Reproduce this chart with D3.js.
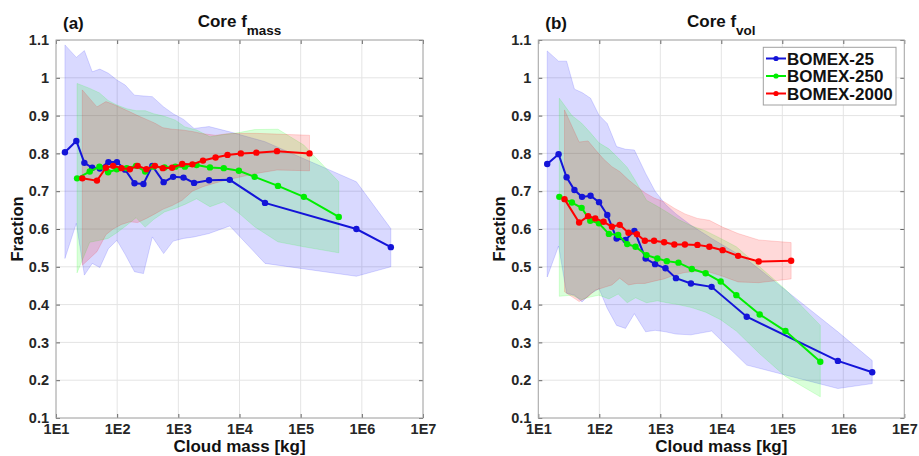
<!DOCTYPE html>
<html>
<head>
    <meta charset='utf-8' />
    <title>Core f_mass and f_vol vs cloud mass</title>
    <script src="https://d3js.org/d3.v7.min.js" charset="utf-8"></script>
    <style>
        body {
            margin: 0;
            background: #fff;
            font-family: "Liberation Sans", Arial, sans-serif;
        }
        .tick text {
            font-size: 14.5px;
            font-weight: bold;
            fill: #262626;
        }
        .lbl {
            font-weight: bold;
            fill: #111;
        }
    </style>
</head>
<body>
<svg id="chart" width="919" height="456"></svg>

<script>

// cloud mass bins [kg], one list per simulation (same in both panels)
var mass25 = [14.0, 21.5, 29.1, 39.1, 52.1, 71.9, 99.1, 135, 192, 269, 376, 575, 822,
              1216, 1807, 3177, 6934, 26120, 814700, 2979000];
var mass250 = [22.1, 35.6, 51.3, 71.1, 98.6, 143.6, 204, 287, 393, 594, 895, 1279, 1986,
               3289, 5534, 9772, 17660, 42560, 112700, 419800];
var mass2000 = [26.9, 46.7, 65.5, 85.9, 117.5, 161, 216, 301, 414, 558, 791, 1156, 1698,
                2529, 4064, 6368, 10510, 18840, 41020, 139600];

// panel (a): core f_mass, mean and spread
var fmass25   = [0.803, 0.833, 0.775, 0.762, 0.760, 0.777, 0.777, 0.757, 0.721, 0.719, 0.767, 0.724, 0.738, 0.736, 0.722, 0.729, 0.730, 0.669, 0.600, 0.552];
var fmass25Hi = [1.087, 1.054, 1.072, 1.016, 1.023, 1.012, 0.994, 0.981, 0.954, 0.952, 0.950, 0.923, 0.905, 0.890, 0.866, 0.871, 0.857, 0.831, 0.725, 0.601];
var fmass25Lo = [0.522, 0.615, 0.478, 0.509, 0.498, 0.548, 0.570, 0.533, 0.487, 0.482, 0.579, 0.535, 0.568, 0.575, 0.579, 0.588, 0.608, 0.509, 0.475, 0.500];

var fmass250   = [0.734, 0.752, 0.765, 0.750, 0.758, 0.761, 0.767, 0.752, 0.765, 0.763, 0.765, 0.765, 0.769, 0.763, 0.761, 0.754, 0.738, 0.714, 0.685, 0.632];
var fmass250Hi = [0.985, 0.972, 0.960, 0.940, 0.928, 0.918, 0.913, 0.913, 0.905, 0.898, 0.888, 0.870, 0.862, 0.844, 0.850, 0.855, 0.863, 0.864, 0.822, 0.725];
var fmass250Lo = [0.484, 0.565, 0.570, 0.575, 0.590, 0.610, 0.630, 0.605, 0.625, 0.645, 0.655, 0.665, 0.680, 0.659, 0.672, 0.642, 0.606, 0.566, 0.553, 0.537];

var fmass2000   = [0.734, 0.728, 0.762, 0.767, 0.761, 0.758, 0.767, 0.758, 0.767, 0.761, 0.762, 0.772, 0.771, 0.781, 0.789, 0.796, 0.800, 0.802, 0.806, 0.800];
var fmass2000Hi = [0.968, 0.923, 0.937, 0.930, 0.920, 0.910, 0.900, 0.890, 0.880, 0.868, 0.864, 0.862, 0.858, 0.852, 0.848, 0.852, 0.853, 0.853, 0.851, 0.848];
var fmass2000Lo = [0.504, 0.540, 0.585, 0.600, 0.612, 0.619, 0.617, 0.628, 0.640, 0.652, 0.662, 0.676, 0.700, 0.712, 0.722, 0.730, 0.738, 0.747, 0.756, 0.754];

// panel (b): core f_vol
var fvol25   = [0.772, 0.798, 0.737, 0.703, 0.685, 0.688, 0.671, 0.637, 0.575, 0.571, 0.595, 0.522, 0.507, 0.496, 0.470, 0.456, 0.447, 0.368, 0.251, 0.221];
var fvol25Hi = [1.071, 1.044, 1.044, 0.970, 0.961, 0.946, 0.901, 0.879, 0.818, 0.811, 0.809, 0.747, 0.700, 0.665, 0.640, 0.610, 0.575, 0.520, 0.328, 0.252];
var fvol25Lo = [0.473, 0.555, 0.430, 0.425, 0.407, 0.429, 0.442, 0.390, 0.345, 0.337, 0.376, 0.328, 0.332, 0.328, 0.322, 0.320, 0.330, 0.240, 0.178, 0.191];

var fvol250   = [0.685, 0.670, 0.656, 0.622, 0.615, 0.587, 0.584, 0.560, 0.553, 0.531, 0.522, 0.515, 0.511, 0.494, 0.483, 0.461, 0.425, 0.374, 0.330, 0.249];
var fvol250Hi = [0.946, 0.900, 0.880, 0.855, 0.828, 0.812, 0.788, 0.763, 0.727, 0.676, 0.660, 0.645, 0.625, 0.608, 0.595, 0.575, 0.553, 0.500, 0.440, 0.345];
var fvol250Lo = [0.422, 0.425, 0.413, 0.420, 0.425, 0.415, 0.428, 0.405, 0.418, 0.405, 0.410, 0.405, 0.400, 0.392, 0.380, 0.360, 0.330, 0.270, 0.210, 0.156];

var fvol2000   = [0.679, 0.617, 0.634, 0.628, 0.619, 0.606, 0.611, 0.590, 0.586, 0.569, 0.569, 0.565, 0.559, 0.559, 0.558, 0.553, 0.544, 0.529, 0.514, 0.516];
var fvol2000Hi = [0.915, 0.830, 0.833, 0.810, 0.785, 0.765, 0.752, 0.730, 0.712, 0.696, 0.682, 0.672, 0.655, 0.640, 0.628, 0.623, 0.605, 0.588, 0.571, 0.564];
var fvol2000Lo = [0.434, 0.408, 0.421, 0.438, 0.445, 0.452, 0.470, 0.452, 0.456, 0.456, 0.462, 0.468, 0.478, 0.485, 0.488, 0.486, 0.475, 0.460, 0.458, 0.468];

var seriesNames = ["BOMEX-25", "BOMEX-250", "BOMEX-2000"];
var seriesColors = ["#0000ff", "#00ff00", "#ff0000"];   // band fills
var lineColors = ["#1414d8", "#00ee00", "#ff0000"];     // mean lines + markers
var xTicks = [1e1, 1e2, 1e3, 1e4, 1e5, 1e6, 1e7];
var yTicks = [0.1, 0.2, 0.3, 0.4, 0.5, 0.6, 0.7, 0.8, 0.9, 1.0, 1.1];

// build series for each panel
function makeSeries(masses, means, his, los) {
    return masses.map(function(m, i) {
        return {
            name: seriesNames[i],
            color: seriesColors[i],
            lineColor: lineColors[i],
            pts: m.map(function(d, j) {
                return {m: d, v: means[i][j], hi: his[i][j], lo: los[i][j]};
            })
        };
    });
}

var masses = [mass25, mass250, mass2000];

var panels = [
    {tag: "(a)", title: "Core f", sub: "mass", left: 56, right: 423,
     series: makeSeries(masses, [fmass25, fmass250, fmass2000],
                        [fmass25Hi, fmass250Hi, fmass2000Hi],
                        [fmass25Lo, fmass250Lo, fmass2000Lo])},
    {tag: "(b)", title: "Core f", sub: "vol", left: 538.3, right: 904.3, legend: true,
     series: makeSeries(masses, [fvol25, fvol250, fvol2000],
                        [fvol25Hi, fvol250Hi, fvol2000Hi],
                        [fvol25Lo, fvol250Lo, fvol2000Lo])}
];

var plotTop = 40, plotBottom = 418;
var svg = d3.select("#chart");

panels.forEach(function(p) {

    var x = d3.scaleLog().domain([1e1, 1e7]).range([p.left, p.right]);
    var y = d3.scaleLinear().domain([0.1, 1.1]).range([plotBottom, plotTop]);

    var g = svg.append("g");

    // grid
    g.selectAll(".gx").data(xTicks).enter().append("line")
        .attr("x1", function(d){ return x(d); }).attr("x2", function(d){ return x(d); })
        .attr("y1", plotTop).attr("y2", plotBottom)
        .attr("stroke", "#e4e4e4").attr("stroke-width", 1);
    g.selectAll(".gy").data(yTicks).enter().append("line")
        .attr("x1", p.left).attr("x2", p.right)
        .attr("y1", function(d){ return y(d); }).attr("y2", function(d){ return y(d); })
        .attr("stroke", "#e4e4e4").attr("stroke-width", 1);

    // spread bands
    var band = d3.area()
        .x(function(d){ return x(d.m); })
        .y0(function(d){ return y(d.lo); })
        .y1(function(d){ return y(d.hi); });

    p.series.forEach(function(s) {
        g.append("path")
            .attr("d", band(s.pts))
            .attr("fill", s.color)
            .attr("fill-opacity", 0.15)
            .attr("stroke", s.color)
            .attr("stroke-opacity", 0.18)
            .attr("stroke-width", 0.8);
    });

    // mean lines
    var line = d3.line()
        .x(function(d){ return x(d.m); })
        .y(function(d){ return y(d.v); });

    p.series.forEach(function(s) {
        g.append("path")
            .attr("d", line(s.pts))
            .attr("fill", "none")
            .attr("stroke", s.lineColor)
            .attr("stroke-width", 2);
        g.selectAll(null).data(s.pts).enter().append("circle")
            .attr("cx", function(d){ return x(d.m); })
            .attr("cy", function(d){ return y(d.v); })
            .attr("r", 3.2)
            .attr("fill", s.lineColor);
    });

    // axes, ticks pointing inward
    var fmtX = function(d){ return "1E" + Math.round(Math.log10(d)); };

    var xAxis = g.append("g").attr("transform", "translate(0," + plotBottom + ")")
        .call(d3.axisBottom(x).tickValues(xTicks).tickFormat(fmtX)
              .tickSizeInner(-4).tickSizeOuter(0).tickPadding(6));
    var yAxis = g.append("g").attr("transform", "translate(" + p.left + ",0)")
        .call(d3.axisLeft(y).tickValues(yTicks).tickFormat(function(d){ return String(+d.toFixed(1)); })
              .tickSizeInner(-4).tickSizeOuter(0).tickPadding(7));
    var xTop = g.append("g").attr("transform", "translate(0," + plotTop + ")")
        .call(d3.axisTop(x).tickValues(xTicks).tickFormat("").tickSizeInner(-4).tickSizeOuter(0));
    var yRight = g.append("g").attr("transform", "translate(" + p.right + ",0)")
        .call(d3.axisRight(y).tickValues(yTicks).tickFormat("").tickSizeInner(-4).tickSizeOuter(0));

    [xAxis, yAxis, xTop, yRight].forEach(function(a) {
        a.select(".domain").remove();
        a.selectAll(".tick line").attr("stroke", "#666");
    });

    g.append("rect")
        .attr("x", p.left).attr("y", plotTop)
        .attr("width", p.right - p.left).attr("height", plotBottom - plotTop)
        .attr("fill", "none").attr("stroke", "#a8a8a8").attr("stroke-width", 1);

    // labels
    var cx = (p.left + p.right) / 2;
    var t = g.append("text").attr("class", "lbl")
        .attr("x", cx).attr("y", 27.3).attr("text-anchor", "middle")
        .style("font-size", "17px");
    t.append("tspan").text(p.title);
    t.append("tspan").attr("dy", 8).style("font-size", "13.5px").text(p.sub);

    g.append("text").attr("class", "lbl")
        .attr("x", p.left + 7).attr("y", 28.5)
        .style("font-size", "17px")
        .text(p.tag);

    g.append("text").attr("class", "lbl")
        .attr("x", cx).attr("y", 452).attr("text-anchor", "middle")
        .style("font-size", "17px")
        .text("Cloud mass [kg]");

    g.append("text").attr("class", "lbl")
        .attr("transform", "translate(" + (p.left - 33.5) + ",229) rotate(-90)")
        .attr("text-anchor", "middle")
        .style("font-size", "16.5px")
        .text("Fraction");

    // legend
    if (p.legend) {
        var lg = g.append("g");
        lg.append("rect")
            .attr("x", 763.3).attr("y", 47.3).attr("width", 132.7).attr("height", 57.7)
            .attr("fill", "#fff").attr("stroke", "#a0a0a0").attr("stroke-width", 1);
        var rows = lg.selectAll(".row").data(p.series).enter().append("g")
            .attr("transform", function(d, i){ return "translate(766," + (58.5 + i * 17.5) + ")"; });
        rows.append("line").attr("x1", 0).attr("x2", 20).attr("y1", 0).attr("y2", 0)
            .attr("stroke", function(d){ return d.lineColor; }).attr("stroke-width", 2);
        rows.append("circle").attr("cx", 10).attr("cy", 0).attr("r", 2.6)
            .attr("fill", function(d){ return d.lineColor; });
        rows.append("text").attr("class", "lbl")
            .attr("x", 21).attr("y", 0).attr("dy", "0.36em")
            .style("font-size", "17px")
            .text(function(d){ return d.name; });
    }
});

</script>
</body>
</html>
